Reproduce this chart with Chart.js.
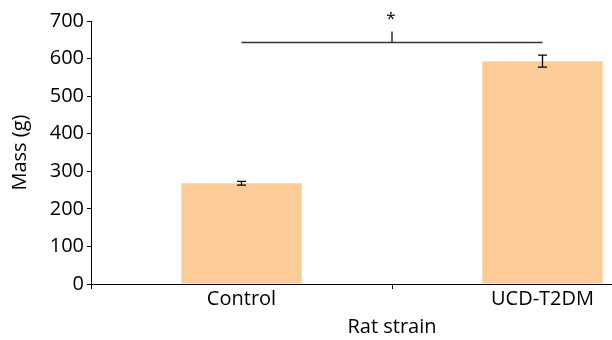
<!DOCTYPE html>
<html>
<head>
<meta charset="utf-8">
<script src="https://cdn.jsdelivr.net/npm/chart.js@4"></script>
<style>
  html, body { margin: 0; padding: 0; background: #fff; overflow: hidden; }
  #wrap { width: 700px; height: 340px; }
</style>
</head>
<body>
<div id="wrap"><canvas id="massChart" width="700" height="340"></canvas></div>
<script>
// data
const strains = ['Control', 'UCD-T2DM'];
const massMeans = [268, 593];
const massErrors = [5, 16];
const yTicks = [0, 100, 200, 300, 400, 500, 600, 700];
const sigLevel = 643; // bracket height, in g
const sigLabel = '*';

const fontFamily = '"Open Sans", "Noto Sans", sans-serif';
const fontSize = 20;

// draws error bars + the significance bracket using the chart scales
const errorBarPlugin = {
  id: 'errorBars',
  afterDatasetsDraw(chart) {
    const ctx = chart.ctx;
    const x = chart.scales.x;
    const y = chart.scales.y;
    ctx.save();
    ctx.strokeStyle = '#000';
    ctx.lineWidth = 1.3;
    massMeans.forEach((m, i) => {
      const cx = x.getPixelForValue(i);
      const top = y.getPixelForValue(m + massErrors[i]);
      const bot = y.getPixelForValue(m - massErrors[i]);
      ctx.beginPath();
      ctx.moveTo(cx, top); ctx.lineTo(cx, bot);
      ctx.moveTo(cx - 4.5, top); ctx.lineTo(cx + 4.5, top);
      ctx.moveTo(cx - 4.5, bot); ctx.lineTo(cx + 4.5, bot);
      ctx.stroke();
    });

    // bracket between the two groups
    const x0 = x.getPixelForValue(0);
    const x1 = x.getPixelForValue(1);
    const by = y.getPixelForValue(sigLevel);
    const mid = (x0 + x1) / 2;
    ctx.strokeStyle = '#333';
    ctx.lineWidth = 1.5;
    ctx.beginPath();
    ctx.moveTo(x0, by); ctx.lineTo(x1, by);
    ctx.moveTo(mid, by); ctx.lineTo(mid, by - 11);
    ctx.stroke();
    ctx.fillStyle = '#000';
    ctx.font = '17px ' + fontFamily;
    ctx.textAlign = 'center';
    ctx.textBaseline = 'middle';
    ctx.fillText(sigLabel, mid - 1, by - 23);
    ctx.restore();
  }
};

new Chart(document.getElementById('massChart'), {
  type: 'bar',
  data: {
    labels: strains,
    datasets: [{
      label: 'Mass',
      data: massMeans,
      backgroundColor: '#fdcb98',
      borderWidth: 0,
      barPercentage: 0.4,
      categoryPercentage: 1.0
    }]
  },
  options: {
    responsive: false,
    animation: false,
    layout: { padding: { top: 21, right: 7, left: 0, bottom: 0 } },
    plugins: {
      legend: { display: false },
      tooltip: { enabled: false }
    },
    scales: {
      x: {
        offset: true,
        grid: { display: true, offset: true, drawOnChartArea: false, drawTicks: true, tickLength: 5, color: '#000' },
        border: { display: true, color: '#000', width: 1 },
        ticks: { color: '#000', font: { family: fontFamily, size: fontSize }, padding: -2, maxRotation: 0 },
        title: { display: true, text: 'Rat strain', color: '#000', font: { family: fontFamily, size: fontSize }, padding: { top: 0, bottom: 1 } },
        afterFit(scale) { scale.height = 56; }
      },
      y: {
        min: 0,
        max: 700,
        afterBuildTicks(scale) { scale.ticks = yTicks.map(v => ({ value: v })); },
        grid: { display: true, drawOnChartArea: false, drawTicks: true, tickLength: 4, color: '#000' },
        border: { display: true, color: '#000', width: 1 },
        ticks: { color: '#000', font: { family: fontFamily, size: fontSize }, padding: 3 },
        title: { display: true, text: 'Mass (g)', color: '#000', font: { family: fontFamily, size: fontSize }, padding: { top: 8, bottom: 0 } },
        afterFit(scale) { scale.width = 91; }
      }
    }
  },
  plugins: [errorBarPlugin]
});
</script>
</body>
</html>
